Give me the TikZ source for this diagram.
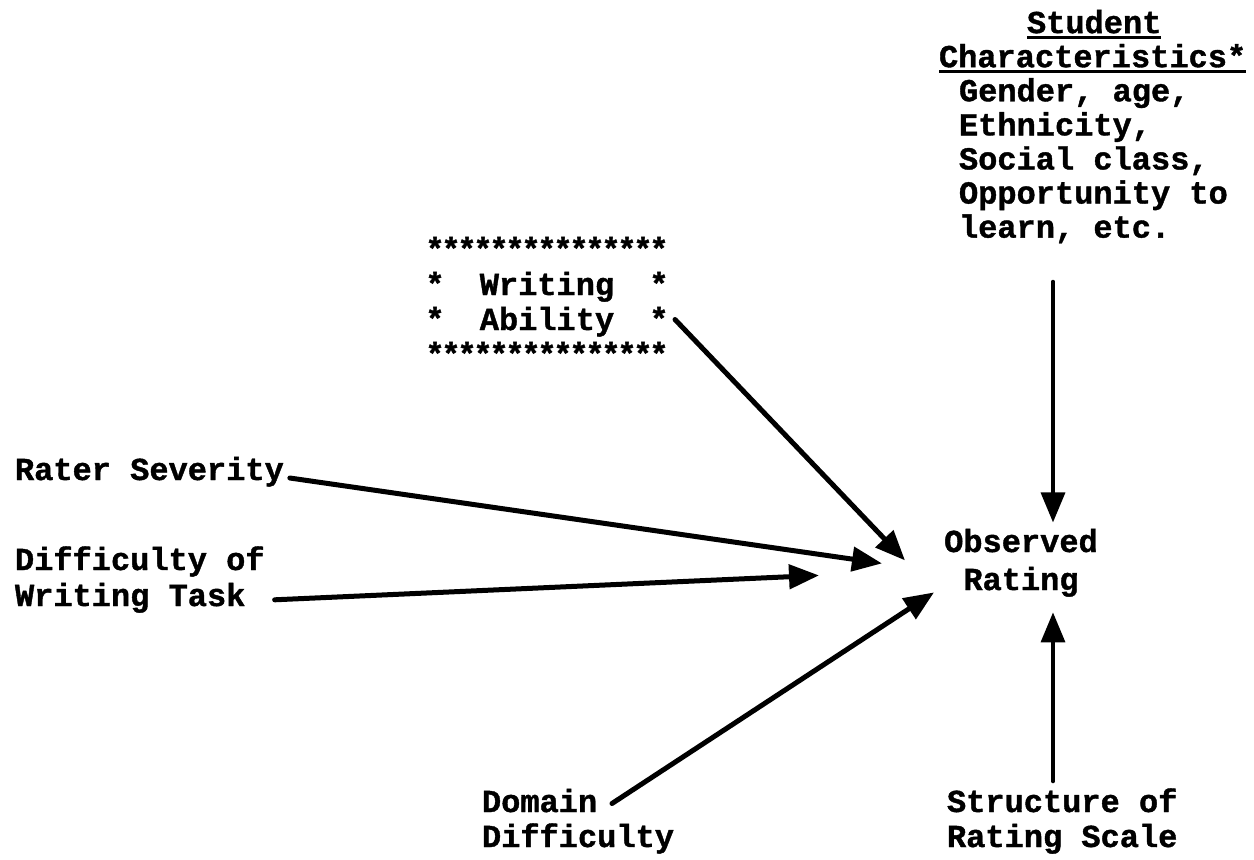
\documentclass[tikz,border=0pt]{standalone}
\usepackage{fontspec}
\newfontfamily\tw{Liberation Mono}[BoldFeatures={FakeBold=1.2}]
\usetikzlibrary{arrows.meta}
\newcommand\sst{\makebox[14pt]{\fontsize{32}{35}\selectfont *}}
\newcommand\srow{\makebox[238pt][s]{\sst\hfil\sst\hfil\sst\hfil\sst\hfil\sst\hfil\sst\hfil\sst\hfil\sst\hfil\sst\hfil\sst\hfil\sst\hfil\sst\hfil\sst\hfil\sst\hfil\sst}}
\newcommand\myul[1]{\leavevmode\vtop{\hbox{#1}\kern3pt\hrule height 3pt}}
\tikzset{
  lbl/.style={inner sep=0pt, outer sep=0pt, font={\tw\bfseries\fontsize{32}{35}\selectfont}},
  lblA/.style={lbl, font={\tw\bfseries\fontsize{32}{33}\selectfont}},
  lblB/.style={lbl, font={\tw\bfseries\fontsize{32}{36}\selectfont}},
  lblC/.style={lbl, font={\tw\bfseries\fontsize{32}{38}\selectfont}},
  conn/.style={line width=5pt, line cap=round, -{Triangle[length=30pt,width=24pt]}},
  vconn/.style={line width=3.5pt, line cap=round, -{Triangle[length=30pt,width=24pt]}}
}
\begin{document}
\begin{tikzpicture}[x=1pt,y=-1pt]
\fill[white] (0,0) rectangle (1254,860);
\useasboundingbox (0,0) rectangle (1254,860);

\node[lblA, anchor=north west, align=left] (sc) at (939,9.9)
  {\strut\hspace*{88pt}\myul{Student}\\
   \strut\myul{Characteristics*}\\
   \strut\hspace*{20pt}Gender, age,\\
   \strut\hspace*{20pt}Ethnicity,\\
   \strut\hspace*{20pt}Social class,\\
   \strut\hspace*{20pt}Opportunity to\\
   \strut\hspace*{20pt}learn, etc.};

\node[lbl, anchor=north, align=center] (wa) at (547,235.5)
  {\strut\srow\\
   \strut\makebox[238pt]{\sst\hfill Writing\hfill\sst}\\
   \strut\makebox[238pt]{\sst\hfill Ability\hfill\sst}\\
   \strut\srow};

\node[lbl, anchor=base west] (rs) at (15,480) {Rater Severity};

\node[lblB, anchor=north west, align=left] (dw) at (15,544.8)
  {\strut Difficulty of\\ \strut Writing Task};

\node[lblC, anchor=center, align=center] (obs) at (1021,563.4)
  {\strut Observed\\ \strut Rating};

\node[lbl, anchor=north west, align=left] (dd) at (482,787.5)
  {\strut Domain\\ \strut Difficulty};

\node[lbl, anchor=north west, align=left] (st) at (947,787.5)
  {\strut Structure of\\ \strut Rating Scale};

\draw[conn] ([shift={(9,14)}]wa.east) -- ([shift={(-116,-3)}]obs.center);
\draw[conn] ([shift={(6,-2)}]rs.base east) -- ([shift={(-139,0)}]obs.center);
\draw[conn] ([shift={(10,-17)}]dw.south east) -- ([shift={(-202,12)}]obs.center);
\draw[conn] ([shift={(130,16)}]dd.north west) -- ([shift={(-87,29)}]obs.center);
\draw[vconn] ([shift={(114,34)}]sc.south west) -- ([shift={(32,-41)}]obs.center);
\draw[vconn] ([shift={(106,-6)}]st.north west) -- ([shift={(32,49)}]obs.center);
\end{tikzpicture}
\end{document}
